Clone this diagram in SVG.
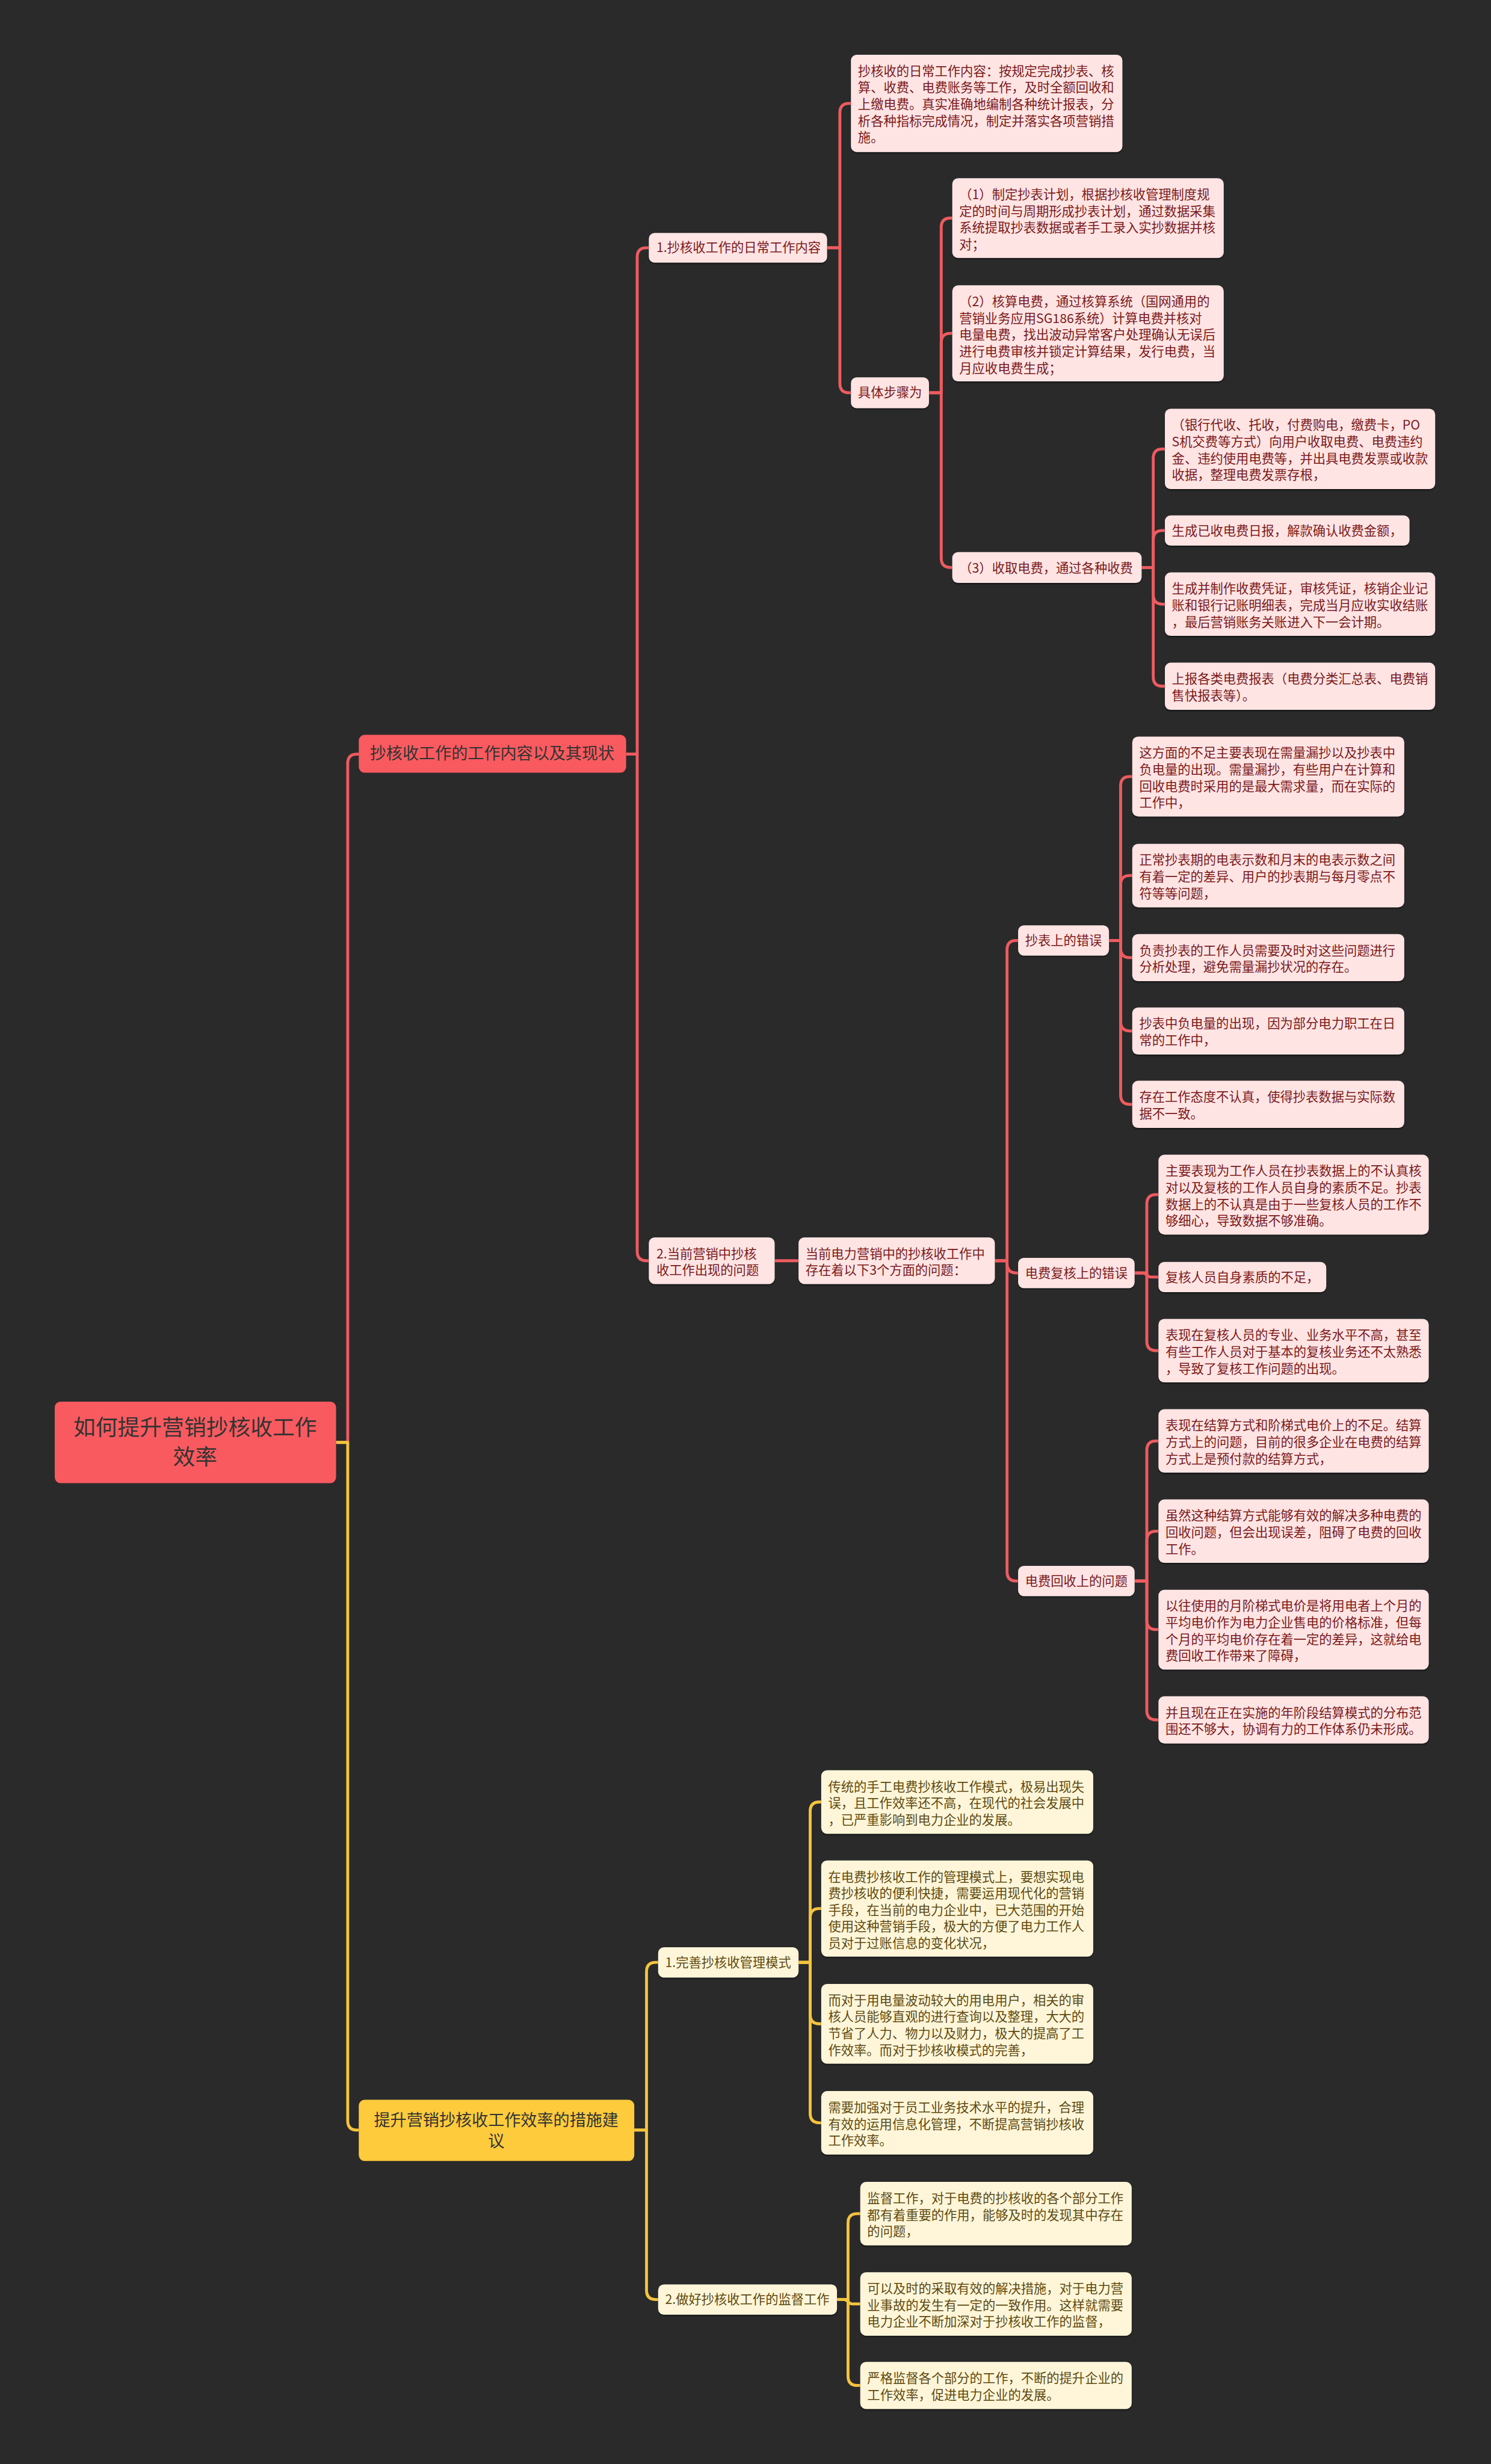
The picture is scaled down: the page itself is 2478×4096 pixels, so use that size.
<svg xmlns="http://www.w3.org/2000/svg" width="2478" height="4096" viewBox="0 0 2478 4096">
<defs>
<style>
text{font-family:"Noto Sans CJK SC","Liberation Sans",sans-serif;}
.lr{stroke:#EE5B60;stroke-width:5;fill:none;stroke-linejoin:round;}
.ly{stroke:#F4C43E;stroke-width:5;fill:none;stroke-linejoin:round;}
.nr{fill:#FFE4E4;filter:url(#sh);}
.ny{fill:#FFF6D9;filter:url(#sh);}
.tr{fill:#7A1A1A;font-size:22px;}
.ty{fill:#5E4A10;font-size:22px;}
.big{fill:#333333;}
</style>
<filter id="sh" x="-5%" y="-10%" width="110%" height="130%">
<feDropShadow dx="0" dy="2" stdDeviation="1.2" flood-color="#000" flood-opacity="0.55"/>
</filter>
</defs>
<rect width="2478" height="4096" fill="#2A2A2A"/>
<g transform="scale(0.968)">
<g id="connectors">
<path class="lr" d="M577,2477 H597 V1311 Q597,1295 613,1295 H616"/>
<path class="lr" d="M1075,1295 H1094 V441.5 Q1094,425.5 1110,425.5 H1114"/>
<path class="lr" d="M1075,1295 H1094 V2149 Q1094,2165 1110,2165 H1114"/>
<path class="lr" d="M1420,425.5 H1442 V193.5 Q1442,177.5 1458,177.5 H1461"/>
<path class="lr" d="M1420,425.5 H1442 V658.5 Q1442,674.5 1458,674.5 H1461"/>
<path class="lr" d="M1595,674.5 H1616 V390.5 Q1616,374.5 1632,374.5 H1635"/>
<path class="lr" d="M1595,674.5 H1616 V588.5 Q1616,572.5 1632,572.5 H1635"/>
<path class="lr" d="M1595,674.5 H1616 V958.5 Q1616,974.5 1632,974.5 H1635"/>
<path class="lr" d="M1960,974.5 H1980 V787 Q1980,771 1996,771 H2000"/>
<path class="lr" d="M1960,974.5 H1980 V927 Q1980,911 1996,911 H2000"/>
<path class="lr" d="M1960,974.5 H1980 V1021.5 Q1980,1037.5 1996,1037.5 H2000"/>
<path class="lr" d="M1960,974.5 H1980 V1162.5 Q1980,1178.5 1996,1178.5 H2000"/>
<path class="lr" d="M1330,2165 H1371"/>
<path class="lr" d="M1708,2165 H1729 V1631 Q1729,1615 1745,1615 H1748"/>
<path class="lr" d="M1708,2165 H1729 V2170 Q1729,2186 1745,2186 H1748"/>
<path class="lr" d="M1708,2165 H1729 V2699 Q1729,2715 1745,2715 H1748"/>
<path class="lr" d="M1904,1615 H1924 V1349.5 Q1924,1333.5 1940,1333.5 H1944"/>
<path class="lr" d="M1904,1615 H1924 V1519.5 Q1924,1503.5 1940,1503.5 H1944"/>
<path class="lr" d="M1904,1615 H1924 V1628.5 Q1924,1644.5 1940,1644.5 H1944"/>
<path class="lr" d="M1904,1615 H1924 V1754.5 Q1924,1770.5 1940,1770.5 H1944"/>
<path class="lr" d="M1904,1615 H1924 V1880.5 Q1924,1896.5 1940,1896.5 H1944"/>
<path class="lr" d="M1948,2186 H1969 V2067.5 Q1969,2051.5 1985,2051.5 H1989"/>
<path class="lr" d="M1948,2186 H1962 C1969,2186 1969,2193 1976,2193 H1989"/>
<path class="lr" d="M1948,2186 H1969 V2303.5 Q1969,2319.5 1985,2319.5 H1989"/>
<path class="lr" d="M1948,2715 H1969 V2490.5 Q1969,2474.5 1985,2474.5 H1989"/>
<path class="lr" d="M1948,2715 H1969 V2645.5 Q1969,2629.5 1985,2629.5 H1989"/>
<path class="lr" d="M1948,2715 H1969 V2782.5 Q1969,2798.5 1985,2798.5 H1989"/>
<path class="lr" d="M1948,2715 H1969 V2937.5 Q1969,2953.5 1985,2953.5 H1989"/>
<path class="ly" d="M577,2477 H597 V3642 Q597,3658 613,3658 H616"/>
<path class="ly" d="M1089,3658 H1110 V3386 Q1110,3370 1126,3370 H1130"/>
<path class="ly" d="M1089,3658 H1110 V3933 Q1110,3949 1126,3949 H1130"/>
<path class="ly" d="M1371,3370 H1391 V3110.5 Q1391,3094.5 1407,3094.5 H1410"/>
<path class="ly" d="M1371,3370 H1391 V3293.5 Q1391,3277.5 1407,3277.5 H1410"/>
<path class="ly" d="M1371,3370 H1391 V3459.5 Q1391,3475.5 1407,3475.5 H1410"/>
<path class="ly" d="M1371,3370 H1391 V3629.5 Q1391,3645.5 1407,3645.5 H1410"/>
<path class="ly" d="M1437,3949 H1456 V3817.5 Q1456,3801.5 1472,3801.5 H1477"/>
<path class="ly" d="M1437,3949 H1449 C1456,3949 1456,3956.5 1463,3956.5 H1477"/>
<path class="ly" d="M1437,3949 H1456 V4080.5 Q1456,4096.5 1472,4096.5 H1477"/>
</g>

<g id="root">
<rect x="94" y="2407" width="483" height="140" rx="10" fill="#F95A5F"/>
<text class="big" font-size="38" text-anchor="middle"><tspan x="335" y="2465">如何提升营销抄核收工作</tspan><tspan x="335" y="2515">效率</tspan></text>
</g>

<g id="branch1">
<rect x="616" y="1262" width="459" height="65" rx="10" fill="#F95A5F"/>
<text class="big" font-size="28" text-anchor="middle" x="845" y="1304">抄核收工作的工作内容以及其现状</text>
</g>

<g id="branch2">
<rect x="616" y="3606" width="473" height="105" rx="10" fill="#FECB3C"/>
<text class="big" font-size="28" text-anchor="middle"><tspan x="852" y="3651">提升营销抄核收工作效率的措施建</tspan><tspan x="852" y="3687">议</tspan></text>
</g>

<g id="n-daily-head">
<rect class="nr" x="1114" y="400" width="306" height="51" rx="10"/>
<text class="tr" x="1127" y="433">1.抄核收工作的日常工作内容</text>
</g>
<g id="n-daily">
<rect class="nr" x="1461" y="94" width="466" height="167" rx="10"/>
<text class="tr"><tspan x="1473" y="130">抄核收的日常工作内容：按规定完成抄表、核</tspan><tspan x="1473" y="158.5">算、收费、电费账务等工作，及时全额回收和</tspan><tspan x="1473" y="187">上缴电费。真实准确地编制各种统计报表，分</tspan><tspan x="1473" y="215.5">析各种指标完成情况，制定并落实各项营销措</tspan><tspan x="1473" y="244">施。</tspan></text>
</g>
<g id="n-steps">
<rect class="nr" x="1461" y="648" width="134" height="53" rx="10"/>
<text class="tr" x="1473" y="682">具体步骤为</text>
</g>
<g id="n-s1">
<rect class="nr" x="1635" y="306" width="466" height="137" rx="10"/>
<text class="tr"><tspan x="1647" y="342">（1）制定抄表计划，根据抄核收管理制度规</tspan><tspan x="1647" y="370.5">定的时间与周期形成抄表计划，通过数据采集</tspan><tspan x="1647" y="399">系统提取抄表数据或者手工录入实抄数据并核</tspan><tspan x="1647" y="427.5">对；</tspan></text>
</g>
<g id="n-s2">
<rect class="nr" x="1635" y="490" width="466" height="165" rx="10"/>
<text class="tr"><tspan x="1647" y="526">（2）核算电费，通过核算系统（国网通用的</tspan><tspan x="1647" y="554.5">营销业务应用SG186系统）计算电费并核对</tspan><tspan x="1647" y="583">电量电费，找出波动异常客户处理确认无误后</tspan><tspan x="1647" y="611.5">进行电费审核并锁定计算结果，发行电费，当</tspan><tspan x="1647" y="640">月应收电费生成；</tspan></text>
</g>
<g id="n-s3">
<rect class="nr" x="1635" y="948" width="325" height="53" rx="10"/>
<text class="tr" x="1647" y="983">（3）收取电费，通过各种收费</text>
</g>
<g id="n-c1">
<rect class="nr" x="2000" y="702" width="464" height="138" rx="10"/>
<text class="tr"><tspan x="2012" y="738">（银行代收、托收，付费购电，缴费卡，PO</tspan><tspan x="2012" y="766.5">S机交费等方式）向用户收取电费、电费违约</tspan><tspan x="2012" y="795">金、违约使用电费等，并出具电费发票或收款</tspan><tspan x="2012" y="823.5">收据，整理电费发票存根，</tspan></text>
</g>
<g id="n-c2">
<rect class="nr" x="2000" y="885" width="420" height="52" rx="10"/>
<text class="tr" x="2012" y="919">生成已收电费日报，解款确认收费金额，</text>
</g>
<g id="n-c3">
<rect class="nr" x="2000" y="983" width="464" height="109" rx="10"/>
<text class="tr"><tspan x="2012" y="1019">生成并制作收费凭证，审核凭证，核销企业记</tspan><tspan x="2012" y="1047.5">账和银行记账明细表，完成当月应收实收结账</tspan><tspan x="2012" y="1076">，最后营销账务关账进入下一会计期。</tspan></text>
</g>
<g id="n-c4">
<rect class="nr" x="2000" y="1138" width="464" height="81" rx="10"/>
<text class="tr"><tspan x="2012" y="1174">上报各类电费报表（电费分类汇总表、电费销</tspan><tspan x="2012" y="1202.5">售快报表等）。</tspan></text>
</g>

<g id="n-problems-head">
<rect class="nr" x="1114" y="2125" width="216" height="80" rx="10"/>
<text class="tr"><tspan x="1127" y="2161">2.当前营销中抄核</tspan><tspan x="1127" y="2189.5">收工作出现的问题</tspan></text>
</g>
<g id="n-q">
<rect class="nr" x="1371" y="2125" width="337" height="80" rx="10"/>
<text class="tr"><tspan x="1383" y="2161">当前电力营销中的抄核收工作中</tspan><tspan x="1383" y="2189.5">存在着以下3个方面的问题：</tspan></text>
</g>
<g id="n-e">
<rect class="nr" x="1748" y="1589" width="156" height="52" rx="10"/>
<text class="tr" x="1760" y="1623">抄表上的错误</text>
</g>
<g id="n-f">
<rect class="nr" x="1748" y="2160" width="200" height="52" rx="10"/>
<text class="tr" x="1760" y="2194">电费复核上的错误</text>
</g>
<g id="n-g">
<rect class="nr" x="1748" y="2689" width="200" height="52" rx="10"/>
<text class="tr" x="1760" y="2723">电费回收上的问题</text>
</g>
<g id="n-e1">
<rect class="nr" x="1944" y="1265" width="467" height="137" rx="10"/>
<text class="tr"><tspan x="1956" y="1301">这方面的不足主要表现在需量漏抄以及抄表中</tspan><tspan x="1956" y="1329.5">负电量的出现。需量漏抄，有些用户在计算和</tspan><tspan x="1956" y="1358">回收电费时采用的是最大需求量，而在实际的</tspan><tspan x="1956" y="1386.5">工作中，</tspan></text>
</g>
<g id="n-e2">
<rect class="nr" x="1944" y="1449" width="467" height="109" rx="10"/>
<text class="tr"><tspan x="1956" y="1485">正常抄表期的电表示数和月末的电表示数之间</tspan><tspan x="1956" y="1513.5">有着一定的差异、用户的抄表期与每月零点不</tspan><tspan x="1956" y="1542">符等等问题，</tspan></text>
</g>
<g id="n-e3">
<rect class="nr" x="1944" y="1604" width="467" height="81" rx="10"/>
<text class="tr"><tspan x="1956" y="1640">负责抄表的工作人员需要及时对这些问题进行</tspan><tspan x="1956" y="1668.5">分析处理，避免需量漏抄状况的存在。</tspan></text>
</g>
<g id="n-e4">
<rect class="nr" x="1944" y="1730" width="467" height="81" rx="10"/>
<text class="tr"><tspan x="1956" y="1766">抄表中负电量的出现，因为部分电力职工在日</tspan><tspan x="1956" y="1794.5">常的工作中，</tspan></text>
</g>
<g id="n-e5">
<rect class="nr" x="1944" y="1856" width="467" height="81" rx="10"/>
<text class="tr"><tspan x="1956" y="1892">存在工作态度不认真，使得抄表数据与实际数</tspan><tspan x="1956" y="1920.5">据不一致。</tspan></text>
</g>
<g id="n-f1">
<rect class="nr" x="1989" y="1983" width="464" height="137" rx="10"/>
<text class="tr"><tspan x="2001" y="2019">主要表现为工作人员在抄表数据上的不认真核</tspan><tspan x="2001" y="2047.5">对以及复核的工作人员自身的素质不足。抄表</tspan><tspan x="2001" y="2076">数据上的不认真是由于一些复核人员的工作不</tspan><tspan x="2001" y="2104.5">够细心，导致数据不够准确。</tspan></text>
</g>
<g id="n-f2">
<rect class="nr" x="1989" y="2167" width="288" height="52" rx="10"/>
<text class="tr" x="2001" y="2201">复核人员自身素质的不足，</text>
</g>
<g id="n-f3">
<rect class="nr" x="1989" y="2265" width="464" height="109" rx="10"/>
<text class="tr"><tspan x="2001" y="2301">表现在复核人员的专业、业务水平不高，甚至</tspan><tspan x="2001" y="2329.5">有些工作人员对于基本的复核业务还不太熟悉</tspan><tspan x="2001" y="2358">，导致了复核工作问题的出现。</tspan></text>
</g>
<g id="n-g1">
<rect class="nr" x="1989" y="2420" width="464" height="109" rx="10"/>
<text class="tr"><tspan x="2001" y="2456">表现在结算方式和阶梯式电价上的不足。结算</tspan><tspan x="2001" y="2484.5">方式上的问题，目前的很多企业在电费的结算</tspan><tspan x="2001" y="2513">方式上是预付款的结算方式，</tspan></text>
</g>
<g id="n-g2">
<rect class="nr" x="1989" y="2575" width="464" height="109" rx="10"/>
<text class="tr"><tspan x="2001" y="2611">虽然这种结算方式能够有效的解决多种电费的</tspan><tspan x="2001" y="2639.5">回收问题，但会出现误差，阻碍了电费的回收</tspan><tspan x="2001" y="2668">工作。</tspan></text>
</g>
<g id="n-g3">
<rect class="nr" x="1989" y="2730" width="464" height="137" rx="10"/>
<text class="tr"><tspan x="2001" y="2766">以往使用的月阶梯式电价是将用电者上个月的</tspan><tspan x="2001" y="2794.5">平均电价作为电力企业售电的价格标准，但每</tspan><tspan x="2001" y="2823">个月的平均电价存在着一定的差异，这就给电</tspan><tspan x="2001" y="2851.5">费回收工作带来了障碍，</tspan></text>
</g>
<g id="n-g4">
<rect class="nr" x="1989" y="2913" width="464" height="81" rx="10"/>
<text class="tr"><tspan x="2001" y="2949">并且现在正在实施的年阶段结算模式的分布范</tspan><tspan x="2001" y="2977.5">围还不够大，协调有力的工作体系仍未形成。</tspan></text>
</g>

<g id="n-y1">
<rect class="ny" x="1130" y="3344" width="241" height="52" rx="10"/>
<text class="ty" x="1142" y="3378">1.完善抄核收管理模式</text>
</g>
<g id="n-y2">
<rect class="ny" x="1130" y="3923" width="307" height="52" rx="10"/>
<text class="ty" x="1142" y="3957">2.做好抄核收工作的监督工作</text>
</g>
<g id="n-h1">
<rect class="ny" x="1410" y="3040" width="467" height="109" rx="10"/>
<text class="ty"><tspan x="1422" y="3076">传统的手工电费抄核收工作模式，极易出现失</tspan><tspan x="1422" y="3104.5">误，且工作效率还不高，在现代的社会发展中</tspan><tspan x="1422" y="3133">，已严重影响到电力企业的发展。</tspan></text>
</g>
<g id="n-h2">
<rect class="ny" x="1410" y="3195" width="467" height="165" rx="10"/>
<text class="ty"><tspan x="1422" y="3231">在电费抄核收工作的管理模式上，要想实现电</tspan><tspan x="1422" y="3259.5">费抄核收的便利快捷，需要运用现代化的营销</tspan><tspan x="1422" y="3288">手段，在当前的电力企业中，已大范围的开始</tspan><tspan x="1422" y="3316.5">使用这种营销手段，极大的方便了电力工作人</tspan><tspan x="1422" y="3345">员对于过账信息的变化状况，</tspan></text>
</g>
<g id="n-h3">
<rect class="ny" x="1410" y="3407" width="467" height="137" rx="10"/>
<text class="ty"><tspan x="1422" y="3443">而对于用电量波动较大的用电用户，相关的审</tspan><tspan x="1422" y="3471.5">核人员能够直观的进行查询以及整理，大大的</tspan><tspan x="1422" y="3500">节省了人力、物力以及财力，极大的提高了工</tspan><tspan x="1422" y="3528.5">作效率。而对于抄核收模式的完善，</tspan></text>
</g>
<g id="n-h4">
<rect class="ny" x="1410" y="3591" width="467" height="109" rx="10"/>
<text class="ty"><tspan x="1422" y="3627">需要加强对于员工业务技术水平的提升，合理</tspan><tspan x="1422" y="3655.5">有效的运用信息化管理，不断提高营销抄核收</tspan><tspan x="1422" y="3684">工作效率。</tspan></text>
</g>
<g id="n-i1">
<rect class="ny" x="1477" y="3747" width="466" height="109" rx="10"/>
<text class="ty"><tspan x="1489" y="3783">监督工作，对于电费的抄核收的各个部分工作</tspan><tspan x="1489" y="3811.5">都有着重要的作用，能够及时的发现其中存在</tspan><tspan x="1489" y="3840">的问题，</tspan></text>
</g>
<g id="n-i2">
<rect class="ny" x="1477" y="3902" width="466" height="109" rx="10"/>
<text class="ty"><tspan x="1489" y="3938">可以及时的采取有效的解决措施，对于电力营</tspan><tspan x="1489" y="3966.5">业事故的发生有一定的一致作用。这样就需要</tspan><tspan x="1489" y="3995">电力企业不断加深对于抄核收工作的监督，</tspan></text>
</g>
<g id="n-i3">
<rect class="ny" x="1477" y="4056" width="466" height="81" rx="10"/>
<text class="ty"><tspan x="1489" y="4092">严格监督各个部分的工作，不断的提升企业的</tspan><tspan x="1489" y="4120.5">工作效率，促进电力企业的发展。</tspan></text>
</g>
</g>
</svg>
